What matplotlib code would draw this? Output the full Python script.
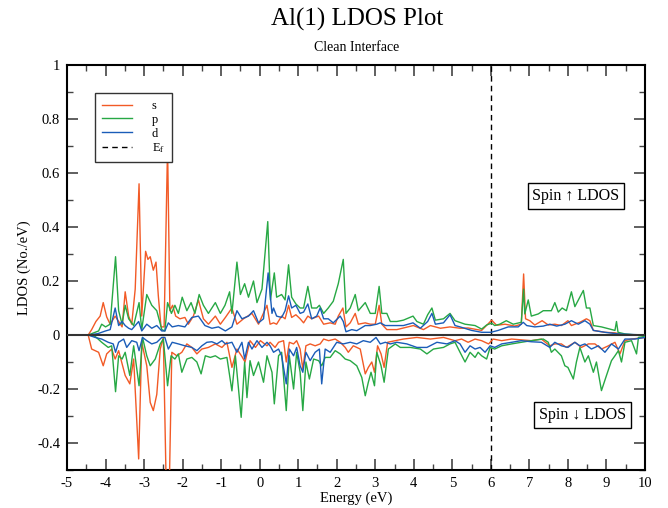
import numpy as np
import matplotlib
matplotlib.use("Agg")
import matplotlib.pyplot as plt
from matplotlib.ticker import MultipleLocator, FuncFormatter

plt.rcParams['font.family'] = ['Liberation Serif', 'DejaVu Serif']
plt.rcParams['mathtext.fontset'] = 'stix'

# ---------------- data ----------------
s_up_E = [-4.45, -4.36, -4.25, -4.14, -4.06, -3.97, -3.88, -3.75, -3.66, -3.57, -3.49, -3.40, -3.32, -3.23, -3.13,
          -3.06, -2.96, -2.90, -2.84, -2.76, -2.69, -2.63, -2.56, -2.48, -2.39, -2.33, -2.26, -2.18, -2.07, -1.94,
          -1.85, -1.72, -1.59, -1.46, -1.33, -1.15, -1.02, -0.89, -0.72, -0.59, -0.42, -0.20, -0.03, 0.19, 0.27,
          0.36, 0.44, 0.57, 0.66, 0.75, 0.83, 0.94, 1.05, 1.14, 1.25, 1.35, 1.53, 1.66, 1.83, 1.96, 2.04, 2.16,
          2.24, 2.35, 2.48, 2.56, 2.74, 2.87, 3.00, 3.10, 3.17, 3.30, 3.56, 3.99, 4.25, 4.43, 4.69, 4.94, 5.20,
          5.41, 5.76, 5.94, 6.02, 6.15, 6.37, 6.62, 6.79, 6.85, 6.90, 7.01, 7.14, 7.33, 7.49, 7.66, 7.83, 8.00,
          8.09, 8.31, 8.48, 8.57, 8.66, 8.96, 9.22, 9.48, 10.0]
s_up = [0.0, 0.02, 0.05, 0.07, 0.12, 0.067, 0.04, 0.07, 0.05, 0.03, 0.16, 0.07, 0.04, 0.17, 0.56,
        0.07, 0.31, 0.28, 0.29, 0.24, 0.27, 0.145, 0.03, 0.03, 0.70, 0.09, 0.11, 0.07, 0.06, 0.065,
        0.04, 0.07, 0.13, 0.06, 0.04, 0.07, 0.04, 0.065, 0.10, 0.04, 0.06, 0.08, 0.04, 0.11, 0.04,
        0.045, 0.04, 0.07, 0.06, 0.11, 0.065, 0.075, 0.06, 0.045, 0.07, 0.06, 0.07, 0.04, 0.045, 0.04, 0.07, 0.10,
        0.03, 0.045, 0.08, 0.04, 0.045, 0.04, 0.04, 0.11, 0.04, 0.02, 0.02, 0.035, 0.02, 0.035, 0.025, 0.03, 0.025,
        0.026, 0.017, 0.043, 0.055, 0.036, 0.04, 0.033, 0.04, 0.226, 0.06, 0.053, 0.037, 0.053, 0.037, 0.04, 0.035, 0.053,
        0.035, 0.047, 0.06, 0.053, 0.017, 0.01, 0.008, 0.0, 0.0]

p_up_E = [-4.45, -4.18, -4.10, -4.00, -3.88, -3.74, -3.66, -3.57, -3.49, -3.40, -3.27, -3.13, -3.06, -2.93, -2.80,
          -2.67, -2.54, -2.46, -2.39, -2.29, -2.20, -2.11, -2.01, -1.89, -1.78, -1.68, -1.57, -1.46, -1.33, -1.15,
          -1.02, -0.90, -0.78, -0.72, -0.59, -0.50, -0.39, -0.29, -0.16, -0.07, 0.06, 0.21, 0.28, 0.38, 0.44,
          0.57, 0.66, 0.75, 0.83, 0.94, 1.05, 1.14, 1.25, 1.35, 1.48, 1.55, 1.66, 1.78, 1.91, 2.04, 2.17, 2.24,
          2.35, 2.48, 2.56, 2.74, 2.87, 3.00, 3.10, 3.17, 3.30, 3.39, 3.56, 3.73, 3.98, 4.08, 4.25, 4.36, 4.47,
          4.56, 4.77, 4.94, 5.07, 5.33, 5.59, 5.76, 5.89, 6.02, 6.10, 6.23, 6.40, 6.58, 6.79, 6.85, 6.88, 6.97,
          7.05, 7.23, 7.36, 7.57, 7.66, 7.75, 7.85, 7.96, 8.09, 8.18, 8.40, 8.48, 8.57, 8.66, 8.87, 9.22, 9.26,
          9.30, 9.48, 9.78, 10.0]
p_up = [0.0, 0.015, 0.04, 0.03, 0.04, 0.29, 0.09, 0.04, 0.11, 0.06, 0.035, 0.12, 0.02, 0.15, 0.11,
        0.09, 0.02, 0.015, 0.12, 0.08, 0.11, 0.08, 0.14, 0.09, 0.12, 0.08, 0.15, 0.11, 0.08, 0.12,
        0.08, 0.11, 0.16, 0.08, 0.27, 0.15, 0.19, 0.14, 0.20, 0.12, 0.17, 0.42, 0.13, 0.23, 0.14,
        0.15, 0.13, 0.26, 0.14, 0.115, 0.10, 0.10, 0.18, 0.10, 0.10, 0.11, 0.08, 0.10, 0.125, 0.19, 0.28, 0.08,
        0.10, 0.15, 0.09, 0.12, 0.08, 0.08, 0.18, 0.08, 0.08, 0.05, 0.05, 0.055, 0.07, 0.05, 0.04, 0.075, 0.10,
        0.055, 0.06, 0.08, 0.053, 0.04, 0.035, 0.022, 0.037, 0.044, 0.035, 0.04, 0.053, 0.04, 0.047, 0.17, 0.078, 0.13,
        0.07, 0.078, 0.09, 0.09, 0.12, 0.085, 0.10, 0.09, 0.16, 0.105, 0.165, 0.10, 0.10, 0.035, 0.03, 0.017, 0.05,
        0.01, 0.004, 0.0, 0.0]

d_up_E = [-4.45, -4.20, -4.00, -3.88, -3.75, -3.66, -3.57, -3.49, -3.40, -3.32, -3.14, -3.06, -2.93, -2.80, -2.67,
          -2.54, -2.46, -2.37, -2.27, -2.11, -1.94, -1.76, -1.59, -1.42, -1.24, -1.07, -0.89, -0.72, -0.59, -0.46,
          -0.29, -0.16, -0.03, 0.10, 0.22, 0.32, 0.36, 0.44, 0.57, 0.66, 0.75, 0.83, 0.94, 1.05, 1.14, 1.25,
          1.35, 1.48, 1.57, 1.66, 1.78, 1.91, 2.09, 2.17, 2.24, 2.39, 2.52, 2.74, 2.87, 3.04, 3.13, 3.26, 3.47,
          3.73, 3.98, 4.17, 4.36, 4.47, 4.56, 4.77, 4.94, 5.07, 5.20, 5.50, 5.76, 6.00, 6.19, 6.45, 6.71, 6.84,
          6.93, 7.14, 7.36, 7.53, 7.71, 7.92, 8.09, 8.27, 8.44, 8.57, 8.66, 8.96, 9.30, 10.0]
d_up = [0.0, 0.005, 0.015, 0.02, 0.10, 0.035, 0.05, 0.035, 0.025, 0.02, 0.05, 0.015, 0.04, 0.025, 0.035,
        0.015, 0.015, 0.045, 0.03, 0.035, 0.03, 0.065, 0.07, 0.035, 0.025, 0.03, 0.015, 0.03, 0.09, 0.06,
        0.07, 0.09, 0.045, 0.06, 0.23, 0.08, 0.10, 0.07, 0.065, 0.09, 0.145, 0.10, 0.11, 0.08, 0.085, 0.115,
        0.06, 0.07, 0.10, 0.06, 0.06, 0.045, 0.07, 0.05, 0.012, 0.02, 0.016, 0.035, 0.035, 0.04, 0.045, 0.035, 0.035,
        0.035, 0.045, 0.025, 0.05, 0.08, 0.04, 0.045, 0.075, 0.035, 0.03, 0.017, 0.01, 0.01, 0.017, 0.03, 0.03, 0.047,
        0.035, 0.03, 0.033, 0.04, 0.033, 0.04, 0.053, 0.04, 0.053, 0.04, 0.017, 0.01, 0.004, 0.0]

s_dn_E = [-4.45, -4.36, -4.18, -4.06, -3.97, -3.84, -3.75, -3.66, -3.49, -3.37, -3.27, -3.14, -3.06, -2.93, -2.84,
          -2.76, -2.67, -2.58, -2.50, -2.42, -2.35, -2.28, -2.15, -2.02, -1.89, -1.76, -1.63, -1.50, -1.33, -1.15,
          -0.98, -0.85, -0.72, -0.59, -0.46, -0.38, -0.25, -0.11, 0.02, 0.19, 0.27, 0.40, 0.49, 0.62, 0.69,
          0.77, 0.88, 0.96, 1.05, 1.12, 1.20, 1.31, 1.44, 1.57, 1.66, 1.79, 1.96, 2.09, 2.22, 2.30, 2.43, 2.61,
          2.74, 2.82, 2.91, 2.98, 3.06, 3.15, 3.23, 3.32, 3.52, 3.73, 4.08, 4.43, 4.77, 5.07, 5.24, 5.41, 5.59,
          5.76, 5.94, 6.06, 6.28, 6.54, 6.79, 7.05, 7.31, 7.53, 7.66, 7.83, 7.96, 8.18, 8.35, 8.53, 8.70, 8.87,
          9.05, 9.22, 9.35, 9.48, 9.65, 9.83, 10.0]
s_dn = [0.0, -0.052, -0.064, -0.114, -0.07, -0.052, -0.089, -0.058, -0.15, -0.181, -0.089, -0.459, -0.027, -0.114, -0.25,
        -0.28, -0.22, -0.052, -0.009, -0.60, -0.60, -0.064, -0.077, -0.064, -0.033, -0.046, -0.07, -0.052, -0.046, -0.033,
        -0.046, -0.027, -0.12, -0.052, -0.08, -0.10, -0.021, -0.046, -0.021, -0.04, -0.027, -0.046, -0.027, -0.021, -0.10,
        -0.027, -0.033, -0.021, -0.052, -0.126, -0.04, -0.033, -0.04, -0.033, -0.015, -0.021, -0.015, -0.027, -0.046, -0.064, -0.04, -0.052,
        -0.144, -0.12, -0.10, -0.138, -0.04, -0.07, -0.12, -0.027, -0.021, -0.015, -0.009, -0.015, -0.009, -0.021, -0.015, -0.027, -0.015,
        -0.021, -0.033, -0.015, -0.021, -0.015, -0.018, -0.021, -0.015, -0.04, -0.033, -0.033, -0.046, -0.027, -0.046, -0.033, -0.033, -0.052,
        -0.04, -0.027, -0.07, -0.021, -0.015, -0.012, -0.009]

p_dn_E = [-4.45, -4.27, -4.10, -3.93, -3.84, -3.74, -3.66, -3.57, -3.49, -3.37, -3.27, -3.13, -3.04, -2.93, -2.84,
          -2.71, -2.58, -2.50, -2.39, -2.30, -2.20, -2.11, -2.02, -1.89, -1.76, -1.63, -1.52, -1.41, -1.28, -1.15,
          -1.02, -0.85, -0.72, -0.63, -0.48, -0.39, -0.33, -0.25, -0.16, -0.03, 0.10, 0.19, 0.32, 0.38, 0.49,
          0.57, 0.69, 0.77, 0.88, 0.96, 1.05, 1.12, 1.20, 1.29, 1.40, 1.53, 1.61, 1.70, 1.83, 1.96, 2.09, 2.22,
          2.35, 2.52, 2.65, 2.74, 2.82, 2.89, 2.98, 3.04, 3.15, 3.23, 3.34, 3.52, 3.65, 3.91, 4.17, 4.34, 4.51,
          4.77, 4.94, 5.07, 5.20, 5.33, 5.46, 5.59, 5.67, 5.76, 5.89, 5.98, 6.10, 6.28, 6.54, 6.79, 7.05, 7.36,
          7.49, 7.57, 7.66, 7.83, 7.92, 8.00, 8.14, 8.22, 8.31, 8.44, 8.53, 8.66, 8.74, 8.87, 9.00, 9.13, 9.22,
          9.31, 9.39, 9.48, 9.65, 9.78, 9.83, 10.0]
p_dn = [0.0, -0.005, -0.027, -0.046, -0.04, -0.21, -0.077, -0.089, -0.064, -0.15, -0.04, -0.188, -0.009, -0.077, -0.114,
        -0.089, -0.033, -0.015, -0.188, -0.077, -0.089, -0.07, -0.138, -0.089, -0.083, -0.10, -0.144, -0.077, -0.083, -0.077,
        -0.089, -0.083, -0.207, -0.077, -0.305, -0.10, -0.232, -0.095, -0.15, -0.10, -0.175, -0.077, -0.138, -0.255, -0.077,
        -0.064, -0.28, -0.077, -0.20, -0.064, -0.138, -0.28, -0.10, -0.163, -0.089, -0.095, -0.114, -0.083, -0.083, -0.058, -0.07, -0.089,
        -0.095, -0.114, -0.157, -0.225, -0.175, -0.138, -0.188, -0.064, -0.114, -0.175, -0.052, -0.033, -0.046, -0.046, -0.052, -0.07, -0.052,
        -0.046, -0.033, -0.027, -0.064, -0.10, -0.064, -0.083, -0.064, -0.077, -0.089, -0.046, -0.052, -0.04, -0.033, -0.027, -0.021, -0.015,
        -0.027, -0.064, -0.052, -0.077, -0.114, -0.12, -0.163, -0.10, -0.046, -0.10, -0.077, -0.138, -0.10, -0.206, -0.15, -0.095, -0.077,
        -0.058, -0.10, -0.027, -0.021, -0.07, -0.009, -0.005]

d_dn_E = [-4.45, -4.27, -4.10, -3.93, -3.80, -3.74, -3.66, -3.53, -3.45, -3.32, -3.19, -3.13, -3.04, -2.93, -2.80,
          -2.67, -2.54, -2.46, -2.37, -2.27, -2.11, -1.94, -1.76, -1.63, -1.50, -1.37, -1.24, -1.11, -0.98, -0.89,
          -0.72, -0.59, -0.46, -0.39, -0.29, -0.20, -0.07, 0.06, 0.19, 0.27, 0.36, 0.49, 0.57, 0.69, 0.77,
          0.88, 0.96, 1.05, 1.12, 1.20, 1.31, 1.44, 1.55, 1.61, 1.70, 1.83, 2.00, 2.17, 2.35, 2.52, 2.69, 2.87,
          3.02, 3.13, 3.26, 3.39, 3.56, 3.82, 4.08, 4.34, 4.60, 4.86, 5.07, 5.20, 5.33, 5.46, 5.59, 5.72, 5.85,
          5.98, 6.10, 6.28, 6.54, 6.79, 7.05, 7.31, 7.53, 7.66, 7.83, 8.00, 8.18, 8.31, 8.44, 8.61, 8.79, 8.96,
          9.13, 9.31, 9.48, 9.74, 10.0]
d_dn = [0.0, -0.009, -0.015, -0.027, -0.033, -0.064, -0.027, -0.015, -0.046, -0.021, -0.027, -0.058, -0.009, -0.021, -0.033,
        -0.027, -0.009, -0.009, -0.052, -0.027, -0.033, -0.04, -0.046, -0.058, -0.04, -0.027, -0.025, -0.033, -0.021, -0.033,
        -0.027, -0.064, -0.027, -0.089, -0.027, -0.052, -0.021, -0.046, -0.027, -0.04, -0.064, -0.052, -0.077, -0.181, -0.052,
        -0.077, -0.046, -0.114, -0.138, -0.064, -0.095, -0.064, -0.052, -0.181, -0.052, -0.064, -0.027, -0.033, -0.027, -0.033, -0.021, -0.027,
        -0.009, -0.033, -0.027, -0.033, -0.027, -0.033, -0.046, -0.046, -0.027, -0.033, -0.021, -0.033, -0.064, -0.04, -0.052, -0.046, -0.064,
        -0.04, -0.046, -0.033, -0.027, -0.021, -0.025, -0.027, -0.046, -0.027, -0.04, -0.046, -0.027, -0.04, -0.033, -0.052, -0.04, -0.064,
        -0.033, -0.052, -0.015, -0.015, -0.009]

fermi_energy = 6.0
x_ticks = [-5, -4, -3, -2, -1, 0, 1, 2, 3, 4, 5, 6, 7, 8, 9, 10]
y_ticks = [-0.4, -0.2, 0, 0.2, 0.4, 0.6, 0.8, 1]

c_s = '#f25a26'
c_p = '#27a844'
c_d = '#1a5cb8'

# ---------------- figure ----------------
fig = plt.figure(figsize=(6.68, 5.08), dpi=100)
ax = fig.add_axes([67/668, 1-470/508, (645-67)/668, (470-65)/508])

lw = 1.0
ax.plot(s_up_E, s_up, color=c_s, lw=lw, label='s', zorder=3)
ax.plot(p_up_E, p_up, color=c_p, lw=lw, label='p', zorder=3)
ax.plot(d_up_E, d_up, color=c_d, lw=lw, label='d', zorder=3)
ax.plot(s_dn_E, s_dn, color=c_s, lw=lw, zorder=3)
ax.plot(p_dn_E, p_dn, color=c_p, lw=lw, zorder=3)
ax.plot(d_dn_E, d_dn, color=c_d, lw=lw, zorder=3)
ax.axhline(0, color='#333333', lw=1.5, zorder=4)
ax.axvline(fermi_energy, color='black', lw=1.0, ls=(0, (4, 3)), label=r'E$_\mathrm{f}$', zorder=2)

ax.set_xlim(-5, 10)
ax.set_ylim(-0.5, 1)
ax.set_xticks(x_ticks)
ax.set_yticks(y_ticks)
ax.xaxis.set_minor_locator(MultipleLocator(0.5))
ax.yaxis.set_minor_locator(MultipleLocator(0.1))

def fmt(v, pos):
    s = ('%g' % round(v, 3))
    return s.replace('\u2212', '-')
ax.xaxis.set_major_formatter(FuncFormatter(fmt))
ax.yaxis.set_major_formatter(FuncFormatter(fmt))

ax.tick_params(which='both', direction='in', top=True, right=True, color='#444444', labelsize=10.5)
ax.tick_params(which='major', length=8, width=1.2, pad=5)
ax.tick_params(which='minor', length=4.3, width=1.0)
for sp in ax.spines.values():
    sp.set_linewidth(1.5)

ax.set_xlabel('Energy (eV)', fontsize=10.5, labelpad=1)
ax.set_ylabel('LDOS (No./eV)', fontsize=10.5, labelpad=4)

leg = ax.legend(loc='upper left', bbox_to_anchor=((95-67)/578, 1-(93-65)/405), borderaxespad=0,
                fontsize=9, frameon=True, framealpha=1, facecolor='white',
                fancybox=False, edgecolor='#333333', handlelength=2.4, handletextpad=1.6,
                labelspacing=0.15, borderpad=0.55)
leg.get_frame().set_linewidth(1.0)
leg.set_zorder(10)

bbox = dict(boxstyle='square,pad=0.3', fc='white', ec='black', lw=1.0)
ax.text(8.21, 0.515, 'Spin \u2191 LDOS', fontsize=11.5, ha='center', va='center', bbox=bbox, zorder=11)
ax.text(8.37, -0.296, 'Spin \u2193 LDOS', fontsize=11.5, ha='center', va='center', bbox=bbox, zorder=11)

fig.text(0.534, 1-19/508, 'Al(1) LDOS Plot', fontsize=18, ha='center', va='center')
fig.text(0.534, 1-47/508, 'Clean Interface', fontsize=10, ha='center', va='center')

fig.savefig('out.png', dpi=100)
